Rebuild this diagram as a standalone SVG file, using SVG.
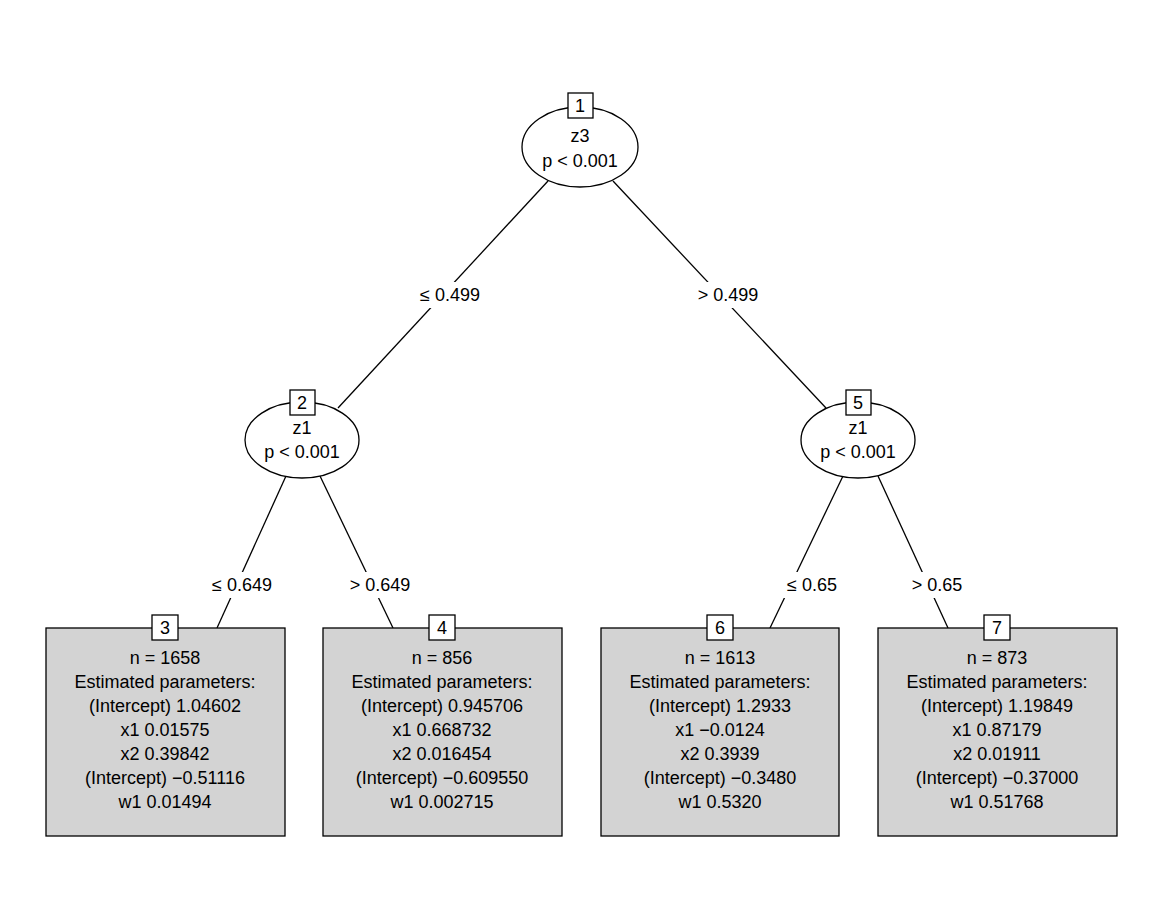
<svg xmlns="http://www.w3.org/2000/svg" width="1163" height="904" viewBox="0 0 1163 904">
<style>
text{font-family:"Liberation Sans",Arial,sans-serif;font-size:18px;text-anchor:middle;fill:#000}
.l{stroke:#000;stroke-width:1.3;fill:none}
.e{stroke:#000;stroke-width:1.3;fill:#fff}
.leaf{stroke:#000;stroke-width:1.3;fill:#d3d3d3}
.id{stroke:#000;stroke-width:1.3;fill:#fff}
.bg{fill:#fff}
</style>
<rect width="1163" height="904" fill="#fff"/>
<g id="edges">
<line class="l" x1="548" y1="181" x2="338" y2="408"/>
<line class="l" x1="613" y1="181" x2="826" y2="408"/>
<line class="l" x1="286" y1="476" x2="217" y2="628"/>
<line class="l" x1="320" y1="476" x2="393" y2="628"/>
<line class="l" x1="843" y1="476" x2="770" y2="628"/>
<line class="l" x1="878" y1="476" x2="948" y2="628"/>
<rect class="bg" x="412" y="282" width="76" height="26"/><text x="450" y="301">≤ 0.499</text>
<rect class="bg" x="690" y="282" width="76" height="26"/><text x="728" y="301">&gt; 0.499</text>
<rect class="bg" x="204" y="572" width="76" height="26"/><text x="242" y="591">≤ 0.649</text>
<rect class="bg" x="342" y="572" width="76" height="26"/><text x="380" y="591">&gt; 0.649</text>
<rect class="bg" x="780" y="572" width="64" height="26"/><text x="812" y="591">≤ 0.65</text>
<rect class="bg" x="905" y="572" width="64" height="26"/><text x="937" y="591">&gt; 0.65</text>
</g>
<g id="node1">
<ellipse class="e" cx="580" cy="147" rx="58" ry="40"/>
<rect class="id" x="568" y="93" width="25" height="25"/><text x="580" y="112">1</text>
<text x="580" y="142">z3</text><text x="580" y="167">p &lt; 0.001</text>
</g>
<g id="node2">
<ellipse class="e" cx="302" cy="440" rx="57" ry="38"/>
<rect class="id" x="290" y="390" width="25" height="25"/><text x="302" y="409">2</text>
<text x="302" y="434">z1</text><text x="302" y="458">p &lt; 0.001</text>
</g>
<g id="node5">
<ellipse class="e" cx="858" cy="440" rx="57" ry="38"/>
<rect class="id" x="846" y="390" width="25" height="25"/><text x="858" y="409">5</text>
<text x="858" y="434">z1</text><text x="858" y="458">p &lt; 0.001</text>
</g>
<g id="node3">
<rect class="leaf" x="46" y="628" width="239" height="208"/>
<rect class="id" x="152" y="615" width="26" height="25"/><text x="165" y="634">3</text>
<text x="165" y="664">n = 1658</text><text x="165" y="688">Estimated parameters:</text><text x="165" y="712">(Intercept) 1.04602</text><text x="165" y="736">x1 0.01575</text><text x="165" y="760">x2 0.39842</text><text x="165" y="784">(Intercept) −0.51116</text><text x="165" y="808">w1 0.01494</text>
</g>
<g id="node4">
<rect class="leaf" x="323" y="628" width="239" height="208"/>
<rect class="id" x="429" y="615" width="26" height="25"/><text x="442" y="634">4</text>
<text x="442" y="664">n = 856</text><text x="442" y="688">Estimated parameters:</text><text x="442" y="712">(Intercept) 0.945706</text><text x="442" y="736">x1 0.668732</text><text x="442" y="760">x2 0.016454</text><text x="442" y="784">(Intercept) −0.609550</text><text x="442" y="808">w1 0.002715</text>
</g>
<g id="node6">
<rect class="leaf" x="601" y="628" width="238" height="208"/>
<rect class="id" x="707" y="615" width="26" height="25"/><text x="720" y="634">6</text>
<text x="720" y="664">n = 1613</text><text x="720" y="688">Estimated parameters:</text><text x="720" y="712">(Intercept) 1.2933</text><text x="720" y="736">x1 −0.0124</text><text x="720" y="760">x2 0.3939</text><text x="720" y="784">(Intercept) −0.3480</text><text x="720" y="808">w1 0.5320</text>
</g>
<g id="node7">
<rect class="leaf" x="878" y="628" width="239" height="208"/>
<rect class="id" x="984" y="615" width="26" height="25"/><text x="997" y="634">7</text>
<text x="997" y="664">n = 873</text><text x="997" y="688">Estimated parameters:</text><text x="997" y="712">(Intercept) 1.19849</text><text x="997" y="736">x1 0.87179</text><text x="997" y="760">x2 0.01911</text><text x="997" y="784">(Intercept) −0.37000</text><text x="997" y="808">w1 0.51768</text>
</g>
</svg>
